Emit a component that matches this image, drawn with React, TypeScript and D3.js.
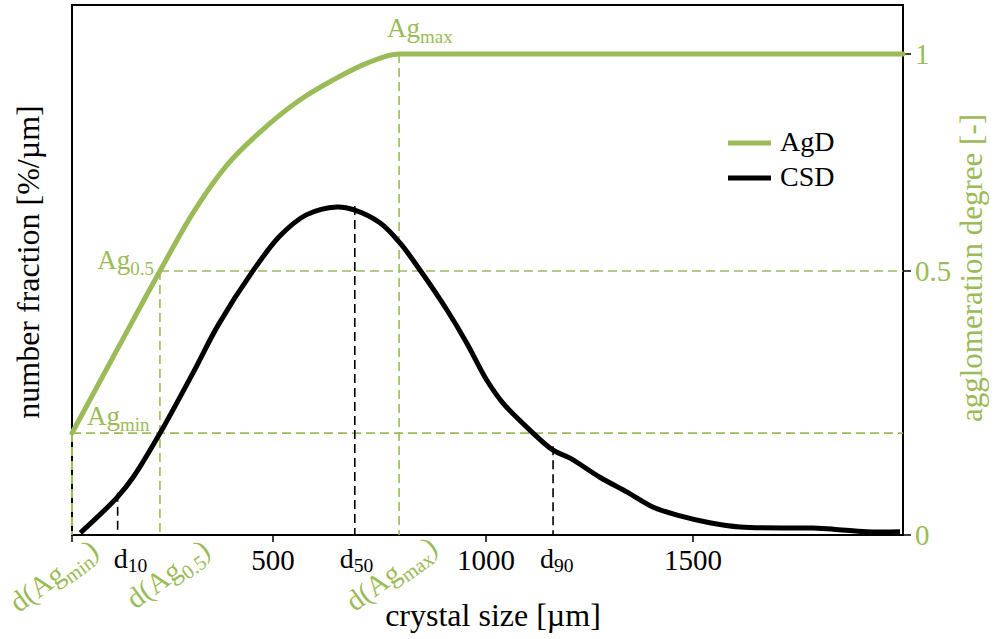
import React from "react";
import * as d3 from "d3";

const W = 997;
const H = 639;
const SERIF = "'Liberation Serif', 'Times New Roman', Times, serif";
const GREEN = "#9bbb59";
const BLACK = "#000000";

// crystal size axis [µm]
const xBreaks = [20, 500, 1000, 1500, 2000];
const xTicks = [500, 1000, 1500];

// agglomeration degree axis [-]
const agTicks = [0, 0.5, 1];
const agTickLabels = ["0", "0.5", "1"];
const agBreaks = [0, 0.5, 1];

// crystal size distribution (number fraction)
const csdSize = [40, 129, 166, 230, 309, 369, 450, 516, 578, 650, 692, 751, 798, 845, 908, 955, 1002, 1041, 1106, 1162, 1203, 1275, 1341, 1403, 1469, 1540, 1612, 1786, 1834, 1914, 1993];
const csdFraction = [0.004, 0.072, 0.109, 0.192, 0.306, 0.396, 0.496, 0.564, 0.604, 0.619, 0.613, 0.589, 0.551, 0.5, 0.425, 0.362, 0.292, 0.249, 0.198, 0.16, 0.145, 0.109, 0.081, 0.053, 0.036, 0.023, 0.015, 0.013, 0.011, 0.006, 0.006];

// agglomeration degree as a function of crystal size
const agdSize = [20, 125, 230, 309, 390, 469, 563, 641, 721, 796, 2000];
const agdDegree = [0.193, 0.347, 0.5, 0.634, 0.744, 0.82, 0.894, 0.94, 0.979, 1, 1];

// characteristic agglomeration levels and sizes
const agMin = 0.193;
const agHalf = 0.5;
const agMax = 1;
const dAgMin = 20;
const dAgHalf = 230;
const dAgMax = 796;
const dQuantiles = [129, 692, 1162];
const dQuantileNames = ["10", "50", "90"];

const M = { left: 72, right: 903, top: 5, bottom: 535 };

function csdAt(size: number): number {
  const i = d3.bisectLeft(csdSize, size);
  if (i <= 0) return csdFraction[0];
  if (i >= csdSize.length) return csdFraction[csdFraction.length - 1];
  const t = (size - csdSize[i - 1]) / (csdSize[i] - csdSize[i - 1]);
  return csdFraction[i - 1] + t * (csdFraction[i] - csdFraction[i - 1]);
}

export default function App() {
  const x = d3
    .scaleLinear()
    .domain(xBreaks)
    .range([M.left, 273, 486, 693, M.right]);
  const yL = d3.scaleLinear().domain([0, 1]).range([M.bottom, M.top]);
  const yR = d3.scaleLinear().domain(agBreaks).range([M.bottom, 271, 54]);

  const csdLine = d3
    .line<number>()
    .x((_, i) => x(csdSize[i]))
    .y((v) => yL(v))
    .curve(d3.curveCatmullRom.alpha(0.5));
  const agdLine = d3
    .line<number>()
    .x((_, i) => x(agdSize[i]))
    .y((v) => yR(v))
    .curve(d3.curveMonotoneX);

  const dash = "9,5";
  const annoSize = 27;
  const rotSize = 29;

  const rotLabel = (px: number, py: number, sub: string, key: string) => (
    <text
      key={key}
      transform={`translate(${px},${py}) rotate(-36)`}
      textAnchor="end"
      fill={GREEN}
      fontSize={rotSize}
      fontFamily={SERIF}
    >
      d(Ag
      <tspan dy={7} fontSize={rotSize * 0.7}>
        {sub}
      </tspan>
      <tspan dy={-7}>)</tspan>
    </text>
  );

  const qOffsets = [-4, -15, -13];

  return (
    <svg width={W} height={H} style={{ display: "block", position: "absolute", left: 0, top: 0 }}>
      <rect x={0} y={0} width={W} height={H} fill="#ffffff" />

      {/* frame */}
      <rect
        x={M.left}
        y={M.top}
        width={M.right - M.left}
        height={M.bottom - M.top}
        fill="none"
        stroke={BLACK}
        strokeWidth={2}
      />

      {/* x ticks */}
      {[xBreaks[0], ...xTicks].map((t) => (
        <line key={`xt${t}`} x1={x(t)} x2={x(t)} y1={M.bottom} y2={M.bottom + 7} stroke={BLACK} strokeWidth={1.5} />
      ))}
      {xTicks.map((t) => (
        <text
          key={`xl${t}`}
          x={x(t)}
          y={570}
          textAnchor="middle"
          fontSize={29}
          fontFamily={SERIF}
          fill={BLACK}
        >
          {t}
        </text>
      ))}

      {/* right axis ticks */}
      {agTicks.map((t, i) => (
        <g key={`yt${t}`}>
          <line x1={M.right} x2={M.right + 8} y1={yR(t)} y2={yR(t)} stroke={BLACK} strokeWidth={1.5} />
          <text x={915} y={yR(t) + 10} fontSize={29} fontFamily={SERIF} fill={GREEN}>
            {agTickLabels[i]}
          </text>
        </g>
      ))}

      {/* agglomeration guide lines */}
      <line x1={M.left} x2={M.right} y1={yR(agMin)} y2={yR(agMin)} stroke={GREEN} strokeWidth={1.6} strokeDasharray={dash} />
      <line x1={x(dAgHalf)} x2={M.right} y1={yR(agHalf)} y2={yR(agHalf)} stroke={GREEN} strokeWidth={1.6} strokeDasharray={dash} />
      <line x1={x(dAgMin)} x2={x(dAgMin)} y1={yR(agMin)} y2={M.bottom} stroke={GREEN} strokeWidth={2} strokeDasharray={dash} />
      <line x1={x(dAgHalf)} x2={x(dAgHalf)} y1={yR(agHalf)} y2={M.bottom} stroke={GREEN} strokeWidth={1.6} strokeDasharray={dash} />
      <line x1={x(dAgMax)} x2={x(dAgMax)} y1={yR(agMax)} y2={M.bottom} stroke={GREEN} strokeWidth={1.6} strokeDasharray={dash} />

      {/* size quantile guide lines */}
      {dQuantiles.map((d) => (
        <line
          key={`q${d}`}
          x1={x(d)}
          x2={x(d)}
          y1={yL(csdAt(d)) - 4}
          y2={M.bottom}
          stroke={BLACK}
          strokeWidth={1.6}
          strokeDasharray={dash}
        />
      ))}

      {/* curves */}
      <path d={agdLine(agdDegree) ?? ""} fill="none" stroke={GREEN} strokeWidth={5} strokeLinecap="round" />
      <path d={csdLine(csdFraction) ?? ""} fill="none" stroke={BLACK} strokeWidth={5} />

      {/* agglomeration level labels */}
      <text x={x(dAgMax) - 12} y={yR(agMax) - 17} fill={GREEN} fontSize={annoSize} fontFamily={SERIF}>
        Ag
        <tspan dy={6} fontSize={annoSize * 0.7}>max</tspan>
      </text>
      <text x={x(dAgHalf) - 6} y={yR(agHalf) - 2} textAnchor="end" fill={GREEN} fontSize={annoSize} fontFamily={SERIF}>
        Ag
        <tspan dy={6} fontSize={annoSize * 0.7}>0.5</tspan>
      </text>
      <text x={x(dAgMin) + 15} y={yR(agMin) - 8} fill={GREEN} fontSize={annoSize} fontFamily={SERIF}>
        Ag
        <tspan dy={6} fontSize={annoSize * 0.7}>min</tspan>
      </text>

      {/* characteristic size labels */}
      {dQuantiles.map((d, i) => (
        <text key={`ql${d}`} x={x(d) + qOffsets[i]} y={568} fill={BLACK} fontSize={28} fontFamily={SERIF}>
          d
          <tspan dy={4} fontSize={28 * 0.7}>{dQuantileNames[i]}</tspan>
        </text>
      ))}
      {rotLabel(x(dAgMin) + 28, 554, "min", "rmin")}
      {rotLabel(x(dAgHalf) + 52, 554, "0.5", "rhalf")}
      {rotLabel(x(dAgMax) + 40, 551, "max", "rmax")}

      {/* legend */}
      <line x1={728} x2={771} y1={143} y2={143} stroke={GREEN} strokeWidth={5} />
      <text x={780} y={151} fontSize={28} fontFamily={SERIF} fill={BLACK}>AgD</text>
      <line x1={728} x2={771} y1={178} y2={178} stroke={BLACK} strokeWidth={5} />
      <text x={780} y={186} fontSize={28} fontFamily={SERIF} fill={BLACK}>CSD</text>

      {/* axis titles */}
      <text x={493} y={626} textAnchor="middle" fontSize={32} fontFamily={SERIF} fill={BLACK}>
        crystal size [µm]
      </text>
      <text
        transform={`translate(39,262) rotate(-90)`}
        textAnchor="middle"
        fontSize={32}
        fontFamily={SERIF}
        fill={BLACK}
      >
        number fraction [%/µm]
      </text>
      <text
        transform={`translate(982,268) rotate(-90)`}
        textAnchor="middle"
        fontSize={31}
        fontFamily={SERIF}
        fill={GREEN}
      >
        agglomeration degree [-]
      </text>
    </svg>
  );
}
